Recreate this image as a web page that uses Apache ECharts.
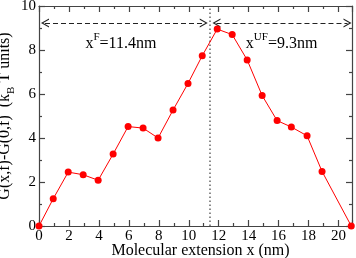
<!DOCTYPE html>
<html><head><meta charset="utf-8">
<script src="https://cdn.jsdelivr.net/npm/echarts@6/dist/echarts.min.js"></script>
<style>html,body{margin:0;padding:0;background:#fff}#c{width:356px;height:258px}</style>
</head><body><div id="c"></div>
<script>
// Data
const xValues = [0, 0.95, 1.95, 2.95, 3.95, 4.95, 5.95, 6.95, 7.95, 8.95, 9.95, 10.9, 11.9, 12.9, 13.9, 14.9, 15.9, 16.85, 17.9, 18.9, 20.85];
const gValues = [0, 1.24, 2.45, 2.33, 2.08, 3.27, 4.52, 4.45, 4.0, 5.27, 6.48, 7.74, 8.95, 8.70, 7.55, 5.93, 4.79, 4.5, 4.1, 2.48, 0];
const xTickValues = [0, 2, 4, 6, 8, 10, 12, 14, 16, 18, 20];
const yTickValues = [0, 2, 4, 6, 8, 10];
const dividerX = 11.4;
const arrowY = 9.23;
const foldArrow = [0.4, 11.0];
const unfoldArrow = [11.85, 20.6];
const foldLabel = {x: 5.47, y: 8.36, name: 'F', value: '=11.4nm'};
const unfoldLabel = {x: 16.2, y: 8.36, name: 'UF', value: '=9.3nm'};

const FONT = 'Liberation Serif';
const axisColor = '#444';
const chevron = 'path://M0,10 L5,0 L10,10 L8.6,10 L5,2.8 L1.4,10 Z';

const pts = xValues.map((x, i) => [x, gValues[i]]);
const xmin = xTickValues[0], xmax = 20.9;
const ymin = yTickValues[0], ymax = yTickValues[yTickValues.length - 1];

function axisCommon(showLabel) {
  return {
    nameMoveOverlap: false,
    axisLine: {show: true, onZero: false, lineStyle: {color: axisColor, width: 1.2}},
    axisTick: {show: true, inside: true, length: 6, lineStyle: {color: axisColor, width: 1.2}},
    minorTick: {show: true, splitNumber: 2, length: 3, lineStyle: {color: axisColor, width: 1.2}},
    splitLine: {show: false},
    axisLabel: {show: showLabel, fontFamily: FONT, fontSize: 15, color: '#000', margin: 3, showMaxLabel: showLabel ? undefined : false}
  };
}

const richText = {
  m: {fontFamily: FONT, fontSize: 16, color: '#000', verticalAlign: 'bottom', lineHeight: 20},
  sup: {fontFamily: FONT, fontSize: 11, color: '#000', verticalAlign: 'top', lineHeight: 20}
};

const option = {
  animation: false,
  grid: {left: 39, right: 4, top: 6, bottom: 32, containLabel: false, outerBoundsMode: 'none'},
  xAxis: [
    Object.assign({type: 'value', min: xmin, max: xmax, interval: 2, position: 'bottom',
      name: 'Molecular extension x (nm)', nameLocation: 'middle', nameGap: 17,
      nameTextStyle: {fontFamily: FONT, fontSize: 16, color: '#000', padding: [0, 0, 0, 10]}}, axisCommon(true),
      {axisLabel: {fontFamily: FONT, fontSize: 15, color: '#000', margin: 3, showMaxLabel: false}}),
    Object.assign({type: 'value', min: xmin, max: xmax, interval: 2, position: 'top'}, axisCommon(false))
  ],
  yAxis: [
    Object.assign({type: 'value', min: ymin, max: ymax, interval: 2, position: 'left',
      name: '{m|G(x,f)-G(0,f)  (k}{sub|B}{m| T units)}', nameLocation: 'middle', nameGap: 22,
      nameTextStyle: {rich: {
        m: {fontFamily: FONT, fontSize: 16, color: '#000', verticalAlign: 'top', lineHeight: 20},
        sub: {fontFamily: FONT, fontSize: 11, color: '#000', verticalAlign: 'bottom', lineHeight: 20}
      }}}, axisCommon(true)),
    Object.assign({type: 'value', min: ymin, max: ymax, interval: 2, position: 'right'}, axisCommon(false))
  ],
  series: [{
    type: 'line',
    data: pts,
    symbol: 'circle',
    symbolSize: 7,
    itemStyle: {color: '#ff0000'},
    lineStyle: {color: '#ff0000', width: 1},
    z: 5,
    markLine: {
      silent: true,
      animation: false,
      label: {show: false},
      symbol: [chevron, chevron],
      symbolSize: [9, 8],
      data: [
        [{coord: [foldArrow[0], arrowY]}, {coord: [foldArrow[1], arrowY]}],
        [{coord: [unfoldArrow[0], arrowY]}, {coord: [unfoldArrow[1], arrowY]}]
      ],
      lineStyle: {type: [5, 3], color: '#222', width: 1.2},
      itemStyle: {color: '#222'}
    },
    markPoint: {
      silent: true,
      symbol: 'circle',
      symbolSize: 0,
      data: [foldLabel, unfoldLabel].map(l => ({
        coord: [l.x, l.y],
        label: {show: true, position: 'inside', formatter: '{m|x}{sup|' + l.name + '}{m|' + l.value + '}', rich: richText}
      }))
    }
  }, {
    type: 'line',
    data: [],
    markLine: {
      silent: true,
      animation: false,
      label: {show: false},
      symbol: ['none', 'none'],
      data: [{xAxis: dividerX}],
      lineStyle: {type: [1.5, 2.5], color: '#666', width: 1.5}
    }
  }]
};
const chart = echarts.init(document.getElementById('c'), null, {renderer: 'canvas'});
chart.setOption(option);
</script></body></html>
